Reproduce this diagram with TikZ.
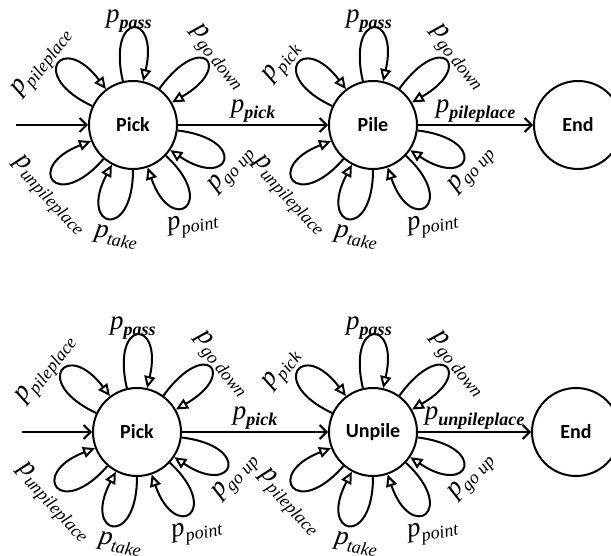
\documentclass[tikz,border=0pt]{standalone}
\usepackage{fontspec}
\setmainfont{Liberation Serif}
\newfontfamily\statefont{Carlito}
\newfontfamily\probfont{Liberation Serif}
\usetikzlibrary{arrows.meta, positioning}

\newcommand{\pr}[1]{{\probfont\fontsize{27}{27}\selectfont\itshape p}\raisebox{-6pt}{\probfont\fontsize{18}{18}\selectfont\itshape #1}}
\newcommand{\pb}[1]{{\probfont\fontsize{27}{27}\selectfont\itshape p}\raisebox{-6pt}{\probfont\fontsize{18}{18}\selectfont\itshape\bfseries #1}}

\begin{document}
\begin{tikzpicture}[
    x=1pt, y=1pt,
    state/.style={
        circle,
        draw,
        line width=2pt,
        minimum size=88pt,
        inner sep=0pt,
        font=\statefont\bfseries\fontsize{20}{24}\selectfont
    },
    every loop/.style={
        looseness=1,
        min distance=72pt
    },
    selfloop/.style={
        loop,
        line width=2pt,
        -{Triangle[open, length=12pt, width=11pt]}
    },
    flow/.style={
        line width=2pt,
        -{Straight Barb[length=7pt, width=14pt]}
    },
    plabel/.style={inner sep=0pt}
]

\useasboundingbox (0,0) rectangle (611,555);

% Top row
\node[state] (pickA) at (133,430) {Pick};
\node[state, right=150pt of pickA] (pile) {Pile};
\node[state, right=115pt of pile] (endA) {End};

% Bottom row
\node[state] (pickB) at (137,123) {Pick};
\node[state, right=146pt of pickB] (unpile) {Unpile};
\node[state, right=113pt of unpile] (endB) {End};

% Entry and forward arrows
\coordinate[left=72pt of pickA] (inA);
\coordinate[left=70pt of pickB] (inB);
\draw[flow] (inA) -- (pickA);
\draw[flow] (inB) -- (pickB);
\draw[flow] (pickA) -- node[plabel, above=2pt] (lpickA) {\pb{pick}} (pile);
\draw[flow] (pile) -- node[plabel, above=2pt] (lpile) {\pb{pileplace}} (endA);
\draw[flow] (pickB) -- node[plabel, above=2pt] (lpickB) {\pb{pick}} (unpile);
\draw[flow] (unpile) -- node[plabel, above=2pt] (lunpile) {\pb{unpileplace}} (endB);

% Self loops
\foreach \s in {pickA, pile, pickB, unpile}
    \foreach \o/\i in {155/127, 103/77, 54/30, -7/-34, -43/-71, -90/-118, -131/-159}
        \draw (\s) edge[out=\o, in=\i, selfloop] (\s);

% Loop labels
\foreach \s/\ul/\ll in {pickA/pileplace/unpileplace, pile/pick/unpileplace, pickB/pileplace/unpileplace, unpile/pick/pileplace} {
    \node[plabel, rotate=52] (\s-ul) at ([shift={(-90,62)}]\s.center) {\pr{\ul}};
    \node[plabel] (\s-pass) at ([shift={(-4,104)}]\s.center) {\pb{pass}};
    \node[plabel, rotate=-51] (\s-down) at ([shift={(84,67)}]\s.center) {\pr{go down}};
    \node[plabel, rotate=48] (\s-up) at ([shift={(99,-45)}]\s.center) {\pr{go up}};
    \node[plabel, rotate=10] (\s-point) at ([shift={(60,-100)}]\s.center) {\pr{point}};
    \node[plabel, rotate=-10] (\s-take) at ([shift={(-17,-112)}]\s.center) {\pr{take}};
    \node[plabel, rotate=-47] (\s-ll) at ([shift={(-84,-71)}]\s.center) {\pr{\ll}};
}

\end{tikzpicture}
\end{document}
